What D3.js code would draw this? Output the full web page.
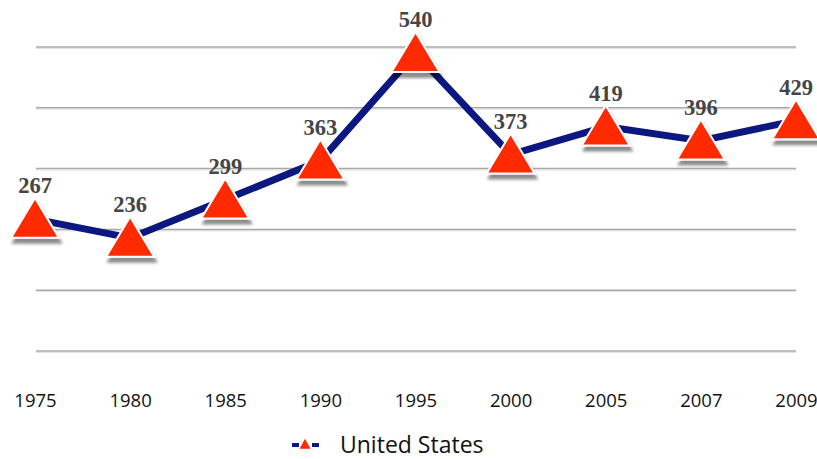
<!DOCTYPE html>
<html>
<head>
<meta charset="utf-8">
<script src="https://cdn.jsdelivr.net/npm/d3@7"></script>
<style>
  body { margin: 0; background: #fff; }
  svg { display: block; }
</style>
</head>
<body>
<svg id="chart"></svg>
<script>
// data
const years = ["1975", "1980", "1985", "1990", "1995", "2000", "2005", "2007", "2009"];
const values = [267, 236, 299, 363, 540, 373, 419, 396, 429];
const gridTicks = [50, 150, 250, 350, 450, 550];
const seriesName = "United States";

const width = 817, height = 459;
const svg = d3.select("#chart").attr("width", width).attr("height", height);

const x = d3.scalePoint().domain(years).range([35, 796]);
const y = d3.scaleLinear().domain([50, 550]).range([351, 47]);

// drop shadow for markers
const defs = svg.append("defs");
const f = defs.append("filter").attr("id", "shadow")
  .attr("x", "-30%").attr("y", "-30%").attr("width", "160%").attr("height", "160%");
f.append("feDropShadow")
  .attr("dx", 2).attr("dy", 5)
  .attr("stdDeviation", 1.6)
  .attr("flood-color", "#000")
  .attr("flood-opacity", 0.45);

// gridlines
const grid = svg.append("g");
grid.selectAll("line.g1")
  .data(gridTicks)
  .enter().append("line")
  .attr("x1", 36).attr("x2", 796)
  .attr("y1", d => y(d) + 1.5).attr("y2", d => y(d) + 1.5)
  .attr("stroke", "#e2e2e2").attr("stroke-width", 1);
grid.selectAll("line.g2")
  .data(gridTicks)
  .enter().append("line")
  .attr("x1", 36).attr("x2", 796)
  .attr("y1", d => y(d)).attr("y2", d => y(d))
  .attr("stroke", "#a8a8a8").attr("stroke-width", 1.5);

// x axis labels
const xAxis = svg.append("g")
  .attr("transform", "translate(0,384)")
  .call(d3.axisBottom(x).tickSize(0).tickPadding(10));
xAxis.select(".domain").remove();
xAxis.selectAll("text")
  .style("font-family", "'Open Sans', sans-serif")
  .style("font-size", "18.5px")
  .attr("fill", "#111");

// line
const line = d3.line()
  .x((d, i) => x(years[i]))
  .y(d => y(d));

svg.append("path")
  .datum(values)
  .attr("d", line)
  .attr("fill", "none")
  .attr("stroke", "#0c1880")
  .attr("stroke-width", 7)
  .attr("stroke-linejoin", "miter");

// triangle markers
const tri = (cx, cy, w, h) => {
  return `M${cx},${cy - h * 0.53}L${cx + w / 2},${cy + h * 0.47}L${cx - w / 2},${cy + h * 0.47}Z`;
};

svg.append("g")
  .selectAll("path")
  .data(values)
  .enter().append("path")
  .attr("d", (d, i) => tri(x(years[i]), y(d), 48, 40))
  .attr("fill", "#ff2a00")
  .attr("stroke", "#fff")
  .attr("stroke-width", 2)
  .attr("stroke-linejoin", "miter")
  .attr("filter", "url(#shadow)");

// value labels
svg.append("g")
  .selectAll("text")
  .data(values)
  .enter().append("text")
  .attr("x", (d, i) => x(years[i]))
  .attr("y", d => y(d) - 26)
  .attr("text-anchor", "middle")
  .style("font-family", "'Liberation Serif', serif")
  .style("font-weight", "bold")
  .style("font-size", "22.5px")
  .attr("fill", "#454545")
  .text(d => d);

// legend
const lg = svg.append("g").attr("transform", "translate(305,445)");
lg.append("line").attr("x1", -13).attr("x2", -6).attr("y1", 0).attr("y2", 0)
  .attr("stroke", "#0c1880").attr("stroke-width", 4);
lg.append("line").attr("x1", 7).attr("x2", 14).attr("y1", 0).attr("y2", 0)
  .attr("stroke", "#0c1880").attr("stroke-width", 4);
lg.append("path").attr("d", tri(0, -1, 11, 10)).attr("fill", "#ff2a00");
lg.append("text")
  .attr("x", 35).attr("y", 8)
  .style("font-family", "'Open Sans', sans-serif")
  .style("font-size", "23px")
  .attr("fill", "#111")
  .text(seriesName);
</script>
</body>
</html>
